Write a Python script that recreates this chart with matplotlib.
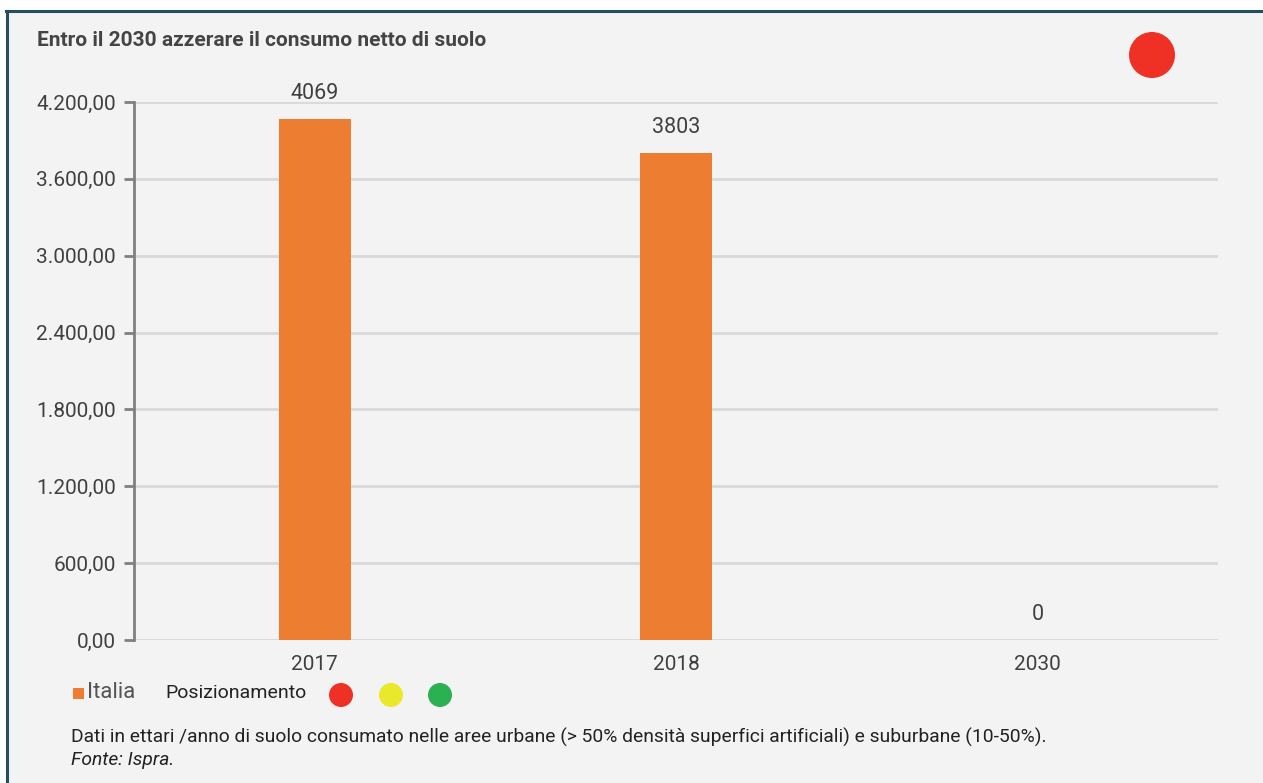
import matplotlib.pyplot as plt
from matplotlib.patches import Ellipse, Rectangle
from matplotlib.ticker import FuncFormatter

plt.rcParams['font.family'] = ['Roboto', 'DejaVu Sans']

# data
years = ["2017", "2018", "2030"]
italia = [4069, 3803, 0]
y_ticks = [0, 600, 1200, 1800, 2400, 3000, 3600, 4200]
status_colors = ["#ee3124", "#e9e82a", "#2bb052"]
current_status = "#ee3124"

W, H = 1263, 783
fig = plt.figure(figsize=(W / 100, H / 100), dpi=100)
fig.patch.set_facecolor("white")


def fx(px):
    return px / W


def fy(py):
    return 1 - py / H


def dot(cx, cy, r, color):
    fig.add_artist(Ellipse((fx(cx), fy(cy)), 2 * r / W, 2 * r / H, transform=fig.transFigure,
                           facecolor=color, edgecolor="none", zorder=5))


# panel background with dark top/left border
fig.add_artist(Rectangle((fx(6), 0), 1 - fx(6), fy(11), transform=fig.transFigure,
                         facecolor="#f3f3f3", edgecolor="none", zorder=-10))
fig.add_artist(plt.Line2D([fx(6), 1], [fy(11), fy(11)], color="#234f5e", lw=2.2, zorder=-5))
fig.add_artist(plt.Line2D([fx(7), fx(7)], [0, fy(11)], color="#234f5e", lw=2.2, zorder=-5))

ax = fig.add_axes([fx(134), fy(640), (1218 - 134) / W, (640 - 102) / H])
ax.patch.set_alpha(0)

x = range(len(years))
ax.bar(x, italia, width=0.2, color="#ed7d31", zorder=3)
for xi, v in zip(x, italia):
    ax.annotate(str(v), (xi, v), xytext=(0, 18), textcoords="offset points",
                ha="center", va="center", fontsize=15.5, color="#404040")

ax.set_xlim(-0.5, 2.5)
ax.set_ylim(0, 4200)
ax.set_yticks(y_ticks)
ax.yaxis.set_major_formatter(FuncFormatter(
    lambda v, p: f"{v:,.2f}".replace(",", "X").replace(".", ",").replace("X", ".")))
ax.set_xticks(list(x))
ax.set_xticklabels(years)
ax.grid(axis="y", color="#d9d9d9", lw=2, zorder=0)
for s in ["top", "right", "bottom"]:
    ax.spines[s].set_visible(False)
ax.spines["left"].set_color("#808080")
ax.spines["left"].set_linewidth(2)
ax.spines["left"].set_zorder(4)
ax.tick_params(axis="y", length=7, width=2, color="#808080", labelsize=15,
               labelcolor="#404040", pad=6)
ax.tick_params(axis="x", length=0, labelsize=15, labelcolor="#404040", pad=11)

# title and status marker
fig.text(fx(37), fy(40), "Entro il 2030 azzerare il consumo netto di suolo",
         fontsize=15, fontweight="bold", color="#444444", va="center")
dot(1152, 55, 23, current_status)

# legend row
fig.add_artist(Rectangle((fx(73), fy(699)), 11 / W, 11 / H, transform=fig.transFigure,
                         facecolor="#ed7d31", edgecolor="none"))
fig.text(fx(87), fy(693), "Italia", fontsize=16, color="#555555", va="center")
fig.text(fx(165), fy(693), "Posizionamento", fontsize=14, color="#222222", va="center")
for cx, c in zip([341, 391, 440], status_colors):
    dot(cx, 695, 12, c)

# footer
fig.text(fx(71), fy(737),
         "Dati in ettari /anno di suolo consumato nelle aree urbane (> 50% densità superfici "
         "artificiali) e suburbane (10-50%).",
         fontsize=13.9, color="#222222", va="center")
fig.text(fx(71), fy(760), "Fonte: Ispra.", fontsize=13.9, color="#222222",
         va="center", style="italic")

fig.savefig("out.png", dpi=100)
